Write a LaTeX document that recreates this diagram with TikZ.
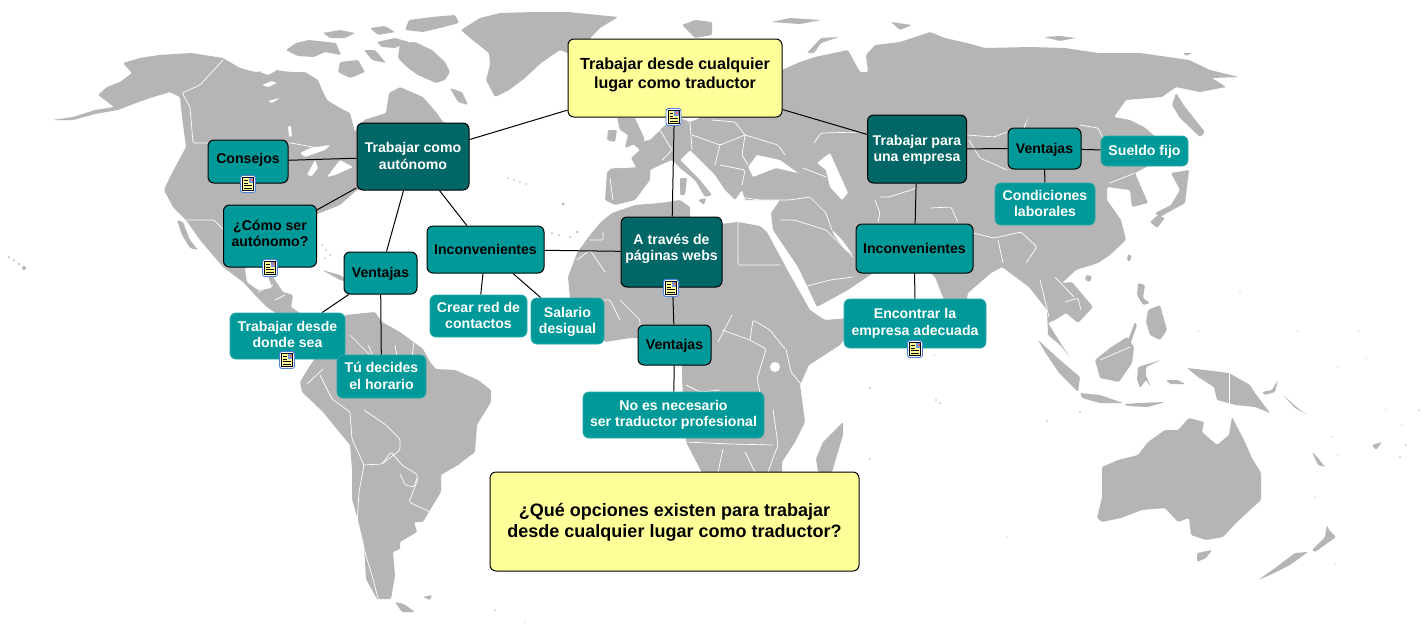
\documentclass[tikz,border=0pt]{standalone}
\usepackage{fontspec}
\setmainfont{Liberation Sans}
\definecolor{mapgray}{HTML}{B5B5B5}
\definecolor{tealm}{HTML}{009999}
\definecolor{teald}{HTML}{006666}
\definecolor{yel}{HTML}{FFFF99}
\definecolor{iconblue}{HTML}{4F81D9}
\pgfdeclarelayer{maplayer}
\pgfdeclarelayer{edges}
\pgfsetlayers{maplayer,edges,main}
\newcommand\lbl[2]{\raisebox{#1}[0pt][0pt]{\begin{tabular}{@{}c@{}}#2\end{tabular}}}
\tikzset{
  land/.style={fill=mapgray,draw=none,rounded corners=1.2pt},
  sea/.style={fill=white,draw=none,rounded corners=1pt},
  bord/.style={draw=white,line width=0.7pt,rounded corners=1.5pt,fill=none},
  conn/.style={draw=black,line width=1pt},
  boxbase/.style={rounded corners=6pt,inner sep=0pt,align=center,anchor=center},
  rootbox/.style={boxbase,draw=black,line width=1pt,fill=yel,text=black,font=\bfseries\fontsize{16.1}{19}\selectfont},
  questbox/.style={boxbase,draw=black,line width=1pt,fill=yel,text=black,font=\bfseries\fontsize{18}{21}\selectfont},
  darkbox/.style={boxbase,draw=black,line width=1pt,fill=teald,text=white,font=\bfseries\fontsize{14.1}{16.4}\selectfont},
  midbox/.style={boxbase,draw=black,line width=1pt,fill=tealm,text=black,font=\bfseries\fontsize{14.1}{16.4}\selectfont},
  leafbox/.style={boxbase,draw=tealm!85!white,line width=0.8pt,fill=tealm,text=white,font=\bfseries\fontsize{14.1}{16.4}\selectfont},
  docicon/.pic={
    \draw[draw=iconblue,fill=white,line width=0.9pt,rounded corners=2.5pt] (-7.5,-8.5) rectangle (7.5,8.5);
    \draw[draw=black,fill=yel,line width=0.8pt] (-5.5,-6.5) rectangle (5.5,6.5);
    \fill[iconblue!80!white] (0.5,-6) rectangle (5,-1.5);
    \fill[red!60!white] (2.5,-5.5) rectangle (4.5,-3.5);
    \draw[black,line width=0.7pt] (-4,-3.5)--(-0.5,-3.5) (-4,-1)--(-0.5,-1) (-4,1.5)--(4,1.5) (-4,4)--(4,4);
  }
}
\begin{document}
\begin{tikzpicture}[x=1pt,y=-1pt]
\useasboundingbox (0,0) rectangle (1425,625);
\begin{pgfonlayer}{maplayer}
\fill[white] (0,0) rectangle (1425,625);
% North America
\fill[land] (52,120)--(73,117)--(95,110)--(114,107)--(105,100)--(98,95)--(107,87)--(120,82)--(132,73)--(123,63)--(140,58)--(159,55)--(191,53)--(223,58)--(240,68)--(255,72)--(275,70)--(291,72)--(305,72)--(318,80)--(322,90)--(327,100)--(340,108)--(350,113)--(355,132)--(364,120)--(386,113)--(389,93)--(400,87)--(423,97)--(436,112)--(443,122)--(468,130)--(465,170)--(357,190)--(340,205)--(315,215)--(315,260)--(310,266)--(278,262)--(273,277)--(283,292)--(293,295)--(291,307)--(310,320)--(330,335)--(318,340)--(295,325)--(268,308)--(255,295)--(243,282)--(223,267)--(200,240)--(186,220)--(173,207)--(164,190)--(170,177)--(186,147)--(182,117)--(180,97)--(170,92)--(150,98)--(136,103)--(118,110)--(95,114)--(73,120)--cycle;
% Baja
\fill[land] (177,220)--(183,222)--(190,240)--(198,250)--(190,248)--(182,235)--cycle;
% Gulf of Mexico
\fill[sea] (245,268)--(262,262)--(278,266)--(268,276)--(272,288)--(258,290)--(247,282)--cycle;
% Arctic islands
\fill[land] (400,43)--(415,42)--(432,50)--(445,62)--(450,72)--(445,80)--(436,83)--(418,75)--(408,68)--(398,58)--cycle;
\fill[land] (286,50)--(296,43)--(309,40)--(336,43)--(341,55)--(325,52)--(314,57)--(298,56)--cycle;
\fill[land] (409,20)--(432,17)--(455,15)--(459,23)--(440,28)--(423,32)--(405,30)--cycle;
\fill[land] (323,33)--(340,30)--(355,33)--(345,38)--(330,38)--cycle;
\fill[land] (377,42)--(395,38)--(409,42)--(395,48)--(382,47)--cycle;
\fill[land] (364,50)--(375,50)--(386,63)--(372,60)--cycle;
\fill[land] (340,62)--(358,60)--(365,72)--(350,78)--(338,72)--cycle;
\fill[land] (370,28)--(385,26)--(395,32)--(378,35)--cycle;
\fill[land] (450,88)--(462,92)--(468,105)--(458,102)--cycle;
% Lakes
\fill[sea] (260,72)--(270,67)--(277,70)--(268,75)--cycle;
\fill[sea] (262,85)--(272,81)--(277,83)--(268,87)--cycle;
\fill[sea] (268,101)--(280,98)--(272,103)--cycle;
\fill[sea] (288,126)--(291,126)--(292,136)--(289,137)--cycle;
\fill[sea] (300,153)--(310,148)--(330,145)--(325,150)--(305,157)--cycle;
\fill[sea] (307,175)--(315,160)--(318,168)--(312,176)--cycle;
\fill[sea] (327,177)--(340,160)--(353,167)--(335,175)--cycle;
% Greenland
\fill[land] (461,30)--(480,18)--(500,13)--(535,12)--(568,12)--(618,17)--(600,28)--(591,37)--(585,60)--(560,50)--(541,63)--(525,78)--(509,90)--(495,97)--(486,80)--(490,65)--(489,53)--(470,38)--cycle;
% Small islands
\fill[land] (9,257) circle (1) (14,260) circle (1) (19,264) circle (1.2) (24,268) circle (2);
\fill[land] (322,270)--(340,275)--(352,283)--(340,280)--cycle;
\fill[land] (358,283)--(368,284)--(372,289)--(360,288)--cycle;
\fill[land] (347,292)--(356,292)--(353,295)--cycle;
\fill[land] (322,245) circle (.8) (326,250) circle (.8) (330,255) circle (.8) (325,258) circle (.8);
\fill[land] (552,233) circle (1) (559,235) circle (1) (570,237) circle (1) (577,232) circle (1.2) (563,204) circle (1.5);
\fill[land] (508,178) circle (.8) (514,180) circle (.8) (520,182) circle (.8) (526,184) circle (.8);
\fill[land] (870,388) circle (.8) (936,400) circle (.8) (940,403) circle (.8) (1047,421) circle (.8) (1080,412) circle (.8) (1240,292) circle (.7) (1298,331) circle (.7) (1198,331) circle (.7) (1359,331) circle (.7) (1366,358) circle (.7) (1338,367) circle (.7) (1386,410) circle (.7) (1419,410) circle (.8) (1402,425) circle (.7) (1406,445) circle (.8) (1400,457) circle (.8) (1332,437) circle (.7) (1338,455) circle (.7) (1007,537) circle (.7) (1315,497) circle (.6) (1335,564) circle (.7) (495,610) circle (.8) (525,622) circle (.6) (870,459) circle (.8) (934,355) circle (.7);
% South America
\fill[land] (300,382)--(309,367)--(314,360)--(330,335)--(345,315)--(375,312)--(382,322)--(400,332)--(423,349)--(430,362)--(436,369)--(455,370)--(478,380)--(491,390)--(491,402)--(477,425)--(475,452)--(458,465)--(441,475)--(441,492)--(430,510)--(423,522)--(414,522)--(417,532)--(400,542)--(400,549)--(393,552)--(395,575)--(391,599)--(377,599)--(366,579)--(364,545)--(358,520)--(352,499)--(352,469)--(350,445)--(336,428)--(323,412)--(302,392)--cycle;
\fill[land] (395,602)--(404,604)--(415,612)--(402,612)--cycle;
\fill[land] (423,597)--(432,595)--(430,600)--cycle;
% Africa
\fill[land] (601,222)--(612,213)--(635,205)--(660,203)--(680,200)--(690,207)--(690,218)--(712,225)--(738,222)--(760,226)--(767,232)--(789,273)--(810,310)--(825,320)--(850,318)--(855,325)--(840,345)--(809,365)--(800,385)--(805,422)--(795,442)--(782,462)--(782,480)--(760,500)--(720,500)--(700,469)--(686,442)--(682,379)--(682,355)--(655,338)--(630,338)--(605,342)--(590,320)--(570,298)--(568,277)--(577,253)--(590,235)--cycle;
\fill[land] (843,422)--(843,435)--(832,472)--(818,472)--(816,459)--(823,442)--cycle;
% Eurasia
\fill[land] (607,172)--(612,168)--(636,167)--(631,158)--(640,150)--(632,143)--(650,140)--(665,125)--(680,118)--(690,122)--(700,118)--(685,100)--(672,95)--(678,75)--(710,50)--(735,40)--(760,47)--(745,60)--(782,70)--(800,62)--(815,57)--(848,50)--(860,72)--(868,72)--(866,55)--(875,45)--(900,42)--(930,32)--(945,38)--(967,43)--(985,48)--(1030,47)--(1065,48)--(1098,53)--(1140,53)--(1189,60)--(1210,70)--(1239,77)--(1212,78)--(1226,87)--(1200,92)--(1176,87)--(1162,97)--(1126,100)--(1114,117)--(1130,120)--(1144,127)--(1165,145)--(1150,165)--(1135,173)--(1148,203)--(1132,207)--(1130,190)--(1107,187)--(1107,200)--(1121,220)--(1126,240)--(1110,255)--(1098,263)--(1076,270)--(1062,283)--(1072,282)--(1093,307)--(1078,323)--(1066,313)--(1055,320)--(1048,323)--(1063,347)--(1070,357)--(1060,345)--(1048,335)--(1047,310)--(1029,287)--(1002,267)--(991,273)--(968,293)--(966,303)--(955,325)--(944,300)--(935,277)--(925,268)--(905,263)--(873,273)--(848,290)--(817,307)--(798,267)--(773,230)--(771,213)--(780,200)--(745,200)--(742,190)--(735,200)--(725,190)--(715,175)--(700,160)--(690,150)--(680,160)--(700,180)--(712,195)--(705,197)--(695,180)--(680,168)--(672,160)--(660,165)--(650,170)--(650,180)--(635,200)--(615,205)--(605,200)--cycle;
% Inner seas
\fill[sea] (748,167)--(757,155)--(780,160)--(798,173)--(776,168)--(753,177)--cycle;
\fill[sea] (817,163)--(830,153)--(839,173)--(848,193)--(842,200)--(830,187)--(826,170)--cycle;
\fill[sea] (832,230)--(842,240)--(853,255)--(844,248)--(834,235)--cycle;
\fill[sea] (1028,117)--(1024,130)--(1022,131)--(1026,122)--cycle;
% Europe islands
\fill[land] (617,118)--(635,118)--(645,140)--(625,148)--(628,135)--(620,130)--cycle;
\fill[land] (608,130)--(617,130)--(615,142)--(607,140)--cycle;
\fill[land] (682,25)--(695,20)--(712,22)--(712,35)--(695,38)--cycle;
\fill[land] (680,178)--(687,178)--(685,195)--(680,195)--cycle;
\fill[land] (698,200)--(706,198)--(704,205)--cycle;
% Arctic Russia islands
\fill[land] (807,53)--(821,38)--(839,37)--(821,43)--(814,53)--cycle;
\fill[land] (771,22)--(790,18)--(821,20)--(800,24)--cycle;
\fill[land] (891,22)--(912,25)--(900,30)--cycle;
\fill[land] (1044,37)--(1060,36)--(1076,38)--(1060,41)--cycle;
\fill[land] (1183,53)--(1192,53)--(1186,56)--cycle;
% Sakhalin, Japan
\fill[sea] (1176,94)--(1181,110)--(1195,128)--(1200,135)--(1180,125)--(1170,104)--cycle;
\fill[land] (1176,93)--(1185,107)--(1205,132)--(1200,137)--(1180,118)--(1172,105)--cycle;
\fill[land] (1171,173)--(1189,170)--(1187,187)--(1185,203)--(1160,217)--(1155,213)--(1171,205)--(1180,190)--cycle;
\fill[land] (1158,215)--(1165,218)--(1157,228)--(1150,222)--cycle;
\fill[land] (1128,254)--(1132,256)--(1129,262)--(1127,260)--cycle;
\fill[land] (1086,275)--(1092,276)--(1090,282)--(1085,280)--cycle;
% SE Asia
\fill[land] (1138,283)--(1145,285)--(1143,298)--(1150,303)--(1143,305)--(1137,295)--cycle;
\fill[land] (1148,310)--(1160,305)--(1167,330)--(1160,340)--(1150,335)--(1146,322)--cycle;
\fill[land] (1126,345)--(1135,322)--(1137,325)--(1130,345)--cycle;
\fill[land] (1095,360)--(1110,348)--(1127,337)--(1134,347)--(1132,363)--(1119,382)--(1100,378)--cycle;
\fill[land] (1038,340)--(1060,360)--(1080,377)--(1078,392)--(1059,373)--(1045,352)--cycle;
\fill[land] (1080,393)--(1100,395)--(1123,403)--(1100,403)--(1082,398)--cycle;
\fill[land] (1124,404)--(1140,403)--(1165,402)--(1148,407)--(1128,406)--cycle;
\fill[land] (1138,367)--(1161,360)--(1146,367)--(1146,376)--(1151,387)--(1146,380)--(1140,388)--(1137,380)--cycle;
\fill[land] (1166,380)--(1178,380)--(1185,384)--(1170,384)--cycle;
\fill[land] (1187,368)--(1205,370)--(1229,373)--(1250,385)--(1255,393)--(1270,413)--(1255,407)--(1236,405)--(1217,400)--(1214,387)--(1198,377)--cycle;
\fill[land] (1262,392)--(1272,390)--(1278,380)--(1275,392)--(1265,395)--cycle;
\fill[land] (1283,395)--(1300,410)--(1308,415)--(1295,408)--cycle;
% Australia, NZ
\fill[land] (1102,467)--(1118,460)--(1138,455)--(1148,442)--(1165,430)--(1178,430)--(1189,418)--(1204,422)--(1202,432)--(1217,445)--(1229,435)--(1232,417)--(1244,440)--(1252,458)--(1261,473)--(1261,500)--(1250,510)--(1236,523)--(1223,537)--(1206,540)--(1191,535)--(1189,518)--(1178,522)--(1165,508)--(1142,510)--(1121,518)--(1102,522)--(1097,518)--(1102,497)--cycle;
\fill[land] (1197,553)--(1212,550)--(1206,558)--(1197,562)--cycle;
\fill[land] (1327,525)--(1329,530)--(1336,537)--(1315,552)--(1312,550)--(1325,537)--cycle;
\fill[land] (1308,552)--(1290,565)--(1270,575)--(1258,580)--(1275,568)--(1295,553)--cycle;
\fill[land] (1312,452)--(1318,458)--(1325,467)--(1318,465)--cycle;
\fill[land] (1372,445)--(1382,442)--(1376,450)--cycle;
% Borders
\draw[bord] (223,60)--(200,85)--(182,93)--(190,107)--(193,143)--(250,143)--(291,143)--(318,148);
\draw[bord] (186,220)--(214,220)--(227,233)--(240,255);
\draw[bord] (258,292)--(273,285) (275,300)--(285,295);
\draw[bord] (332,399)--(350,412)--(352,439)--(364,465)--(359,492)--(357,525)--(373,579)--(378,598);
\draw[bord] (364,410)--(386,425)--(400,439)--(400,450)--(382,464)--(364,465);
\draw[bord] (382,464)--(391,452)--(402,465)--(418,475)--(414,487)--(405,485)--(400,474);
\draw[bord] (418,479)--(409,502)--(430,512);
\draw[bord] (368,345)--(375,360)--(350,335);
\draw[bord] (307,384)--(323,369);
\draw[bord] (332,399)--(320,375);
\draw[bord] (395,345)--(398,362) (414,342)--(412,358);
\draw[bord] (589,240)--(603,240)--(603,232);
\draw[bord] (577,260)--(590,250)--(605,272);
\draw[bord] (738,222)--(738,265)--(780,265);
\draw[bord] (732,315)--(718,342);
\draw[bord] (722,330)--(750,340)--(766,349)--(757,379)--(764,409);
\draw[bord] (786,349)--(791,372)--(805,389);
\draw[bord] (750,340)--(753,320)--(770,330)--(785,349);
\draw[bord] (686,385)--(700,392)--(720,390);
\draw[bord] (686,442)--(730,444)--(773,445);
\draw[bord] (723,449)--(718,472);
\draw[bord] (745,452)--(755,472);
\draw[bord] (773,409)--(778,445)--(768,472);
\draw[bord] (585,300)--(610,300)--(620,320);
\draw[bord] (620,300)--(640,320)--(640,338);
\fill[white] (775,367) circle (5);
\draw[bord] (814,143)--(821,133)--(862,132);
\draw[bord] (967,135)--(994,137)--(1007,132);
\draw[bord] (969,140)--(980,158)--(1007,170);
\draw[bord] (1080,125)--(1098,128)--(1107,147);
\draw[bord] (1110,183)--(1135,173);
\draw[bord] (803,168)--(826,177);
\draw[bord] (739,197)--(760,200)--(789,200)--(810,197)--(826,213)--(832,230);
\draw[bord] (780,220)--(794,220)--(826,230)--(853,257);
\draw[bord] (803,287)--(830,280)--(853,277);
\draw[bord] (878,222)--(880,213)--(875,200);
\draw[bord] (880,197)--(889,197)--(917,188);
\draw[bord] (930,208)--(951,207)--(958,222);
\draw[bord] (973,233)--(994,238)--(1021,232)--(1037,247)--(1026,263);
\draw[bord] (998,240)--(1003,263);
\draw[bord] (1040,280)--(1049,317);
\draw[bord] (1055,277)--(1074,297);
\draw[bord] (1065,302)--(1078,298)--(1081,310);
\draw[bord] (1100,360)--(1130,347);
\draw[bord] (1229,373)--(1229,405);
\draw[bord] (612,168)--(636,167);
\draw[bord] (610,178)--(613,200);
\draw[bord] (645,140)--(660,130)--(672,150)--(662,160);
\draw[bord] (690,122)--(692,150);
\draw[bord] (692,135)--(720,145)--(745,135);
\draw[bord] (712,120)--(735,122)--(745,135)--(778,145)--(785,155);
\draw[bord] (720,145)--(715,165);
\draw[bord] (745,135)--(742,155)--(748,165);
\draw[bord] (720,165)--(745,170)--(742,185);
\end{pgfonlayer}
% Nodes
\node[rootbox,minimum width=214pt,minimum height=78pt] (root) at (675,78) {\lbl{-2pt}{Trabajar desde cualquier\hspace{5pt}\\lugar como traductor}};
\node[questbox,minimum width=369pt,minimum height=99pt] (quest) at (674.5,521.5) {\lbl{-6pt}{¿Qué opciones existen para trabajar\\desde cualquier lugar como traductor?}};
\node[darkbox,minimum width=112pt,minimum height=67pt] (auton) at (413,156.5) {\lbl{-5pt}{Trabajar como\\autónomo}};
\node[darkbox,minimum width=99pt,minimum height=68pt] (empresa) at (917,149) {\lbl{-5pt}{Trabajar para\\una empresa}};
\node[darkbox,minimum width=101pt,minimum height=70pt] (web) at (671.5,252) {\lbl{-1pt}{A través de\\páginas webs}};
\node[midbox,minimum width=80pt,minimum height=43pt] (consejos) at (248,161.5) {\lbl{-2pt}{Consejos}};
\node[midbox,minimum width=93pt,minimum height=62pt] (como) at (270,236) {\lbl{-3pt}{¿Cómo ser\\autónomo?}};
\node[midbox,minimum width=73pt,minimum height=42pt] (vent1) at (380.5,273) {\lbl{-5pt}{Ventajas}};
\node[midbox,minimum width=117pt,minimum height=47pt] (inc1) at (485.5,249.5) {\lbl{-5pt}{Inconvenientes}};
\node[midbox,minimum width=73pt,minimum height=41pt] (vent2) at (1044.5,148.5) {\lbl{-5pt}{Ventajas}};
\node[midbox,minimum width=117pt,minimum height=49pt] (inc2) at (914.5,248.5) {\lbl{-5pt}{Inconvenientes}};
\node[midbox,minimum width=73pt,minimum height=40pt] (vent3) at (674.5,345) {\lbl{-5pt}{Ventajas}};
\node[leafbox,minimum width=97pt,minimum height=42pt] (crear) at (478.5,316) {\lbl{-5pt}{Crear red de\\contactos}};
\node[leafbox,minimum width=73pt,minimum height=46pt] (salario) at (567.5,321) {\lbl{-5pt}{Salario\\desigual}};
\node[leafbox,minimum width=115pt,minimum height=46pt] (donde) at (287.5,336) {\lbl{-4pt}{Trabajar desde\\donde sea}};
\node[leafbox,minimum width=89pt,minimum height=43pt] (decides) at (381.5,376.5) {\lbl{-5pt}{Tú decides\\el horario}};
\node[leafbox,minimum width=181pt,minimum height=46pt] (noes) at (673.5,415) {\lbl{-4pt}{No es necesario\\ser traductor profesional}};
\node[leafbox,minimum width=100pt,minimum height=42pt] (cond) at (1045,204) {\lbl{-5pt}{Condiciones\\laborales}};
\node[leafbox,minimum width=87pt,minimum height=30pt] (sueldo) at (1144.5,151) {\lbl{-5pt}{Sueldo fijo}};
\node[leafbox,minimum width=142pt,minimum height=49pt] (encontrar) at (915,323.5) {\lbl{-4pt}{Encontrar la\\empresa adecuada}};
% Connectors
\begin{pgfonlayer}{edges}
\draw[conn] (root) -- (auton);
\draw[conn] (root) -- (empresa);
\draw[conn] (root) -- (web);
\draw[conn] (auton) -- (consejos);
\draw[conn] (auton) -- (como);
\draw[conn] (auton) -- (vent1);
\draw[conn] (auton) -- (inc1);
\draw[conn] (inc1) -- (web);
\draw[conn] (inc1) -- (crear);
\draw[conn] (inc1) -- (salario);
\draw[conn] (vent1) -- (donde);
\draw[conn] (vent1) -- (decides);
\draw[conn] (web) -- (vent3);
\draw[conn] (vent3) -- (noes);
\draw[conn] (empresa) -- (vent2);
\draw[conn] (empresa) -- (inc2);
\draw[conn] (vent2) -- (sueldo);
\draw[conn] (vent2) -- (cond);
\draw[conn] (inc2) -- (encontrar);
\end{pgfonlayer}
% Icons
\pic at (673.5,117) {docicon};
\pic at (248,184) {docicon};
\pic at (270,268) {docicon};
\pic at (287,360) {docicon};
\pic at (671,288) {docicon};
\pic at (915,349) {docicon};
\end{tikzpicture}
\end{document}
